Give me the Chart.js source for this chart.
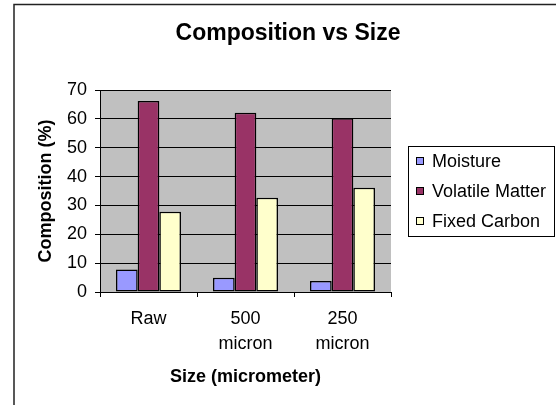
<!DOCTYPE html>
<html>
<head>
<meta charset="utf-8">
<script src="https://cdn.jsdelivr.net/npm/chart.js@4"></script>
<style>
  body { margin: 0; background: #fff; }
  canvas { display: block; }
</style>
</head>
<body>
<canvas id="chartBar" width="556" height="405"></canvas>
<script>
const categories = [['Raw'], ['500', 'micron'], ['250', 'micron']];
const seriesNames = ['Moisture', 'Volatile Matter', 'Fixed Carbon'];
const moisture = [7.8, 4.9, 3.8];
const volatileMatter = [66.2, 62.1, 60.2];
const fixedCarbon = [27.8, 32.7, 36.1];
const seriesColors = ['#9999FF', '#993366', '#FFFFCC'];

const FONT = '"Liberation Sans", Arial, sans-serif';

// gray plot area, outer frame, title and legend box
const excelLook = {
  id: 'excelLook',
  beforeDraw(chart) {
    const { ctx, chartArea: a } = chart;
    ctx.save();
    ctx.fillStyle = '#fff';
    ctx.fillRect(0, 0, chart.width, chart.height);
    ctx.fillStyle = '#C0C0C0';
    ctx.fillRect(a.left, a.top, a.right - a.left, a.bottom - a.top);
    ctx.restore();
  },
  afterDraw(chart) {
    const { ctx } = chart;
    ctx.save();
    // frame
    ctx.strokeStyle = '#222';
    ctx.lineWidth = 1.5;
    ctx.beginPath();
    ctx.moveTo(14, 405);
    ctx.lineTo(14, 4.5);
    ctx.lineTo(556, 4.5);
    ctx.stroke();

    // title
    ctx.fillStyle = '#000';
    ctx.font = 'bold 23px ' + FONT;
    ctx.textAlign = 'center';
    ctx.textBaseline = 'middle';
    ctx.fillText('Composition vs Size', 288, 34);

    // legend
    ctx.fillStyle = '#fff';
    ctx.fillRect(408, 146, 146, 90);
    ctx.strokeStyle = '#000';
    ctx.lineWidth = 1;
    ctx.strokeRect(408.5, 146.5, 146, 90);
    ctx.font = '18px ' + FONT;
    ctx.textAlign = 'left';
    chart.data.datasets.forEach((ds, i) => {
      const y = 161 + i * 30;
      ctx.fillStyle = ds.backgroundColor;
      ctx.fillRect(416, y - 4, 8, 8);
      ctx.strokeRect(416.5, y - 3.5, 7, 7);
      ctx.fillStyle = '#000';
      ctx.fillText(ds.label, 432, y + 1);
    });
    ctx.restore();
  }
};

const values = [moisture, volatileMatter, fixedCarbon];

new Chart(document.getElementById('chartBar').getContext('2d'), {
  type: 'bar',
  data: {
    labels: categories,
    datasets: seriesNames.map((name, i) => ({
      label: name,
      data: values[i],
      backgroundColor: seriesColors[i],
      borderColor: '#000',
      borderWidth: 1.5,
      borderSkipped: false,
      categoryPercentage: 0.67,
      barPercentage: 1
    }))
  },
  options: {
    responsive: false,
    animation: false,
    layout: { padding: { top: 90, right: 165, bottom: 0, left: 0 } },
    plugins: {
      legend: { display: false },
      title: { display: false },
      tooltip: { enabled: false }
    },
    scales: {
      x: {
        afterFit: s => { s.height = 113; },
        grid: { offset: true, drawOnChartArea: false, color: '#000', tickLength: 5 },
        border: { color: '#000' },
        ticks: { color: '#000', padding: 10, font: { family: FONT, size: 18, lineHeight: 1.39 } },
        title: {
          display: true, text: 'Size (micrometer)', color: '#000',
          font: { family: FONT, size: 18, weight: 'bold' }, padding: { bottom: 17 }
        }
      },
      y: {
        min: 0, max: 70,
        afterFit: s => { s.width = 100; },
        grid: { color: '#000', tickLength: 5 },
        border: { color: '#000' },
        ticks: { stepSize: 10, color: '#000', padding: 8, font: { family: FONT, size: 18 } },
        title: {
          display: true, text: 'Composition (%)', color: '#000',
          font: { family: FONT, size: 18, weight: 'bold' }, padding: { top: 35 }
        }
      }
    }
  },
  plugins: [excelLook]
});
</script>
</body>
</html>
